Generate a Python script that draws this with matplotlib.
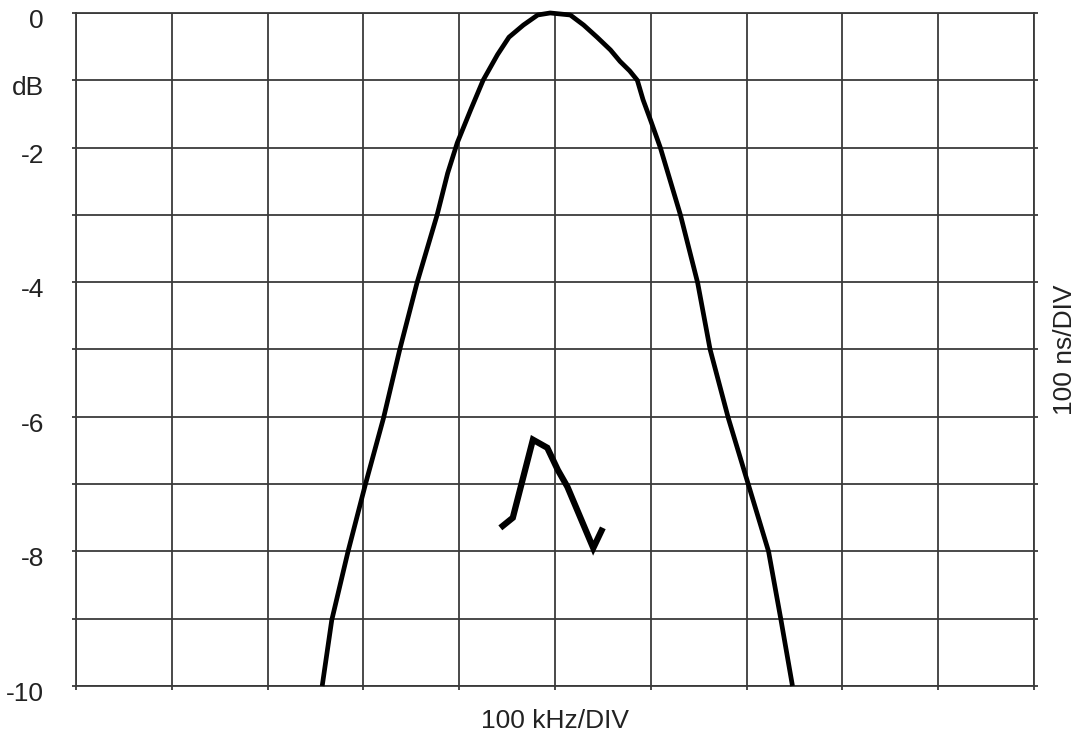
import matplotlib
matplotlib.use("Agg")
import matplotlib.pyplot as plt
from matplotlib.transforms import ScaledTranslation

plt.rcParams["font.family"] = ["Liberation Sans", "DejaVu Sans"]

# main filter response (x in divisions, y in dB)
resp_x = [2.57, 2.67, 2.84, 3.02, 3.21, 3.38, 3.56, 3.77, 3.88, 3.98, 4.12, 4.25,
          4.40, 4.52, 4.67, 4.82, 4.95, 5.16, 5.30, 5.44, 5.58, 5.68, 5.78, 5.86,
          5.92, 6.00, 6.10, 6.31, 6.49, 6.62, 6.81, 7.02, 7.23, 7.36, 7.48]
resp_y = [-10.0, -9.02, -8.0, -7.01, -6.02, -5.0, -4.01, -3.0, -2.38, -1.93, -1.44, -1.0,
          -0.62, -0.36, -0.18, -0.03, 0.0, -0.03, -0.18, -0.36, -0.55, -0.72, -0.86, -1.0,
          -1.29, -1.6, -2.0, -3.0, -4.01, -5.0, -6.02, -7.01, -8.0, -9.02, -10.0]

# group delay trace (100 ns/DIV), same grid
delay_x = [4.43, 4.56, 4.77, 4.92, 5.03, 5.13, 5.40, 5.50]
delay_y = [-7.65, -7.50, -6.34, -6.46, -6.79, -7.04, -7.95, -7.65]

ytick_vals = list(range(0, -11, -1))
ytick_labels = ["0", "dB", "-2", "", "-4", "", "-6", "", "-8", "", "-10"]

GRID = "#3a3a3a"
TEXT = "#222222"

fig = plt.figure(figsize=(10.86, 7.41), dpi=100)
ax = fig.add_axes([0.070, 0.0742, 0.882, 0.9083])

ax.plot(resp_x, resp_y, color="black", linewidth=3.4, solid_joinstyle="round",
        solid_capstyle="butt", clip_on=False, zorder=3)
ax.plot(delay_x, delay_y, color="black", linewidth=4.5, solid_joinstyle="miter",
        solid_capstyle="butt", clip_on=False, zorder=3)

ax.set_xlim(0, 10)
ax.set_ylim(-10, 0)
ax.set_xticks(range(11))
ax.set_xticklabels([])
ax.set_yticks(ytick_vals)
ax.set_yticklabels(ytick_labels, fontsize=19, color=TEXT)
ax.tick_params(axis="both", length=3, width=1.3, color=GRID, direction="out")
ax.tick_params(axis="y", pad=20, right=True)
ax.grid(True, color=GRID, linewidth=1.3)
for sp in ax.spines.values():
    sp.set_color(GRID)
    sp.set_linewidth(1.3)

# labels sit a touch below their grid lines in the original
shift = ScaledTranslation(0, -4 / 72, fig.dpi_scale_trans)
for lbl in ax.get_yticklabels():
    lbl.set_transform(lbl.get_transform() + shift)

ax.set_xlabel("100 kHz/DIV", fontsize=19, color=TEXT, labelpad=10)
ax.text(1.032, 0.5, "100 ns/DIV", transform=ax.transAxes, rotation=90,
        ha="center", va="center", fontsize=19, color=TEXT)

fig.savefig("out.png", dpi=100)
plt.close(fig)
